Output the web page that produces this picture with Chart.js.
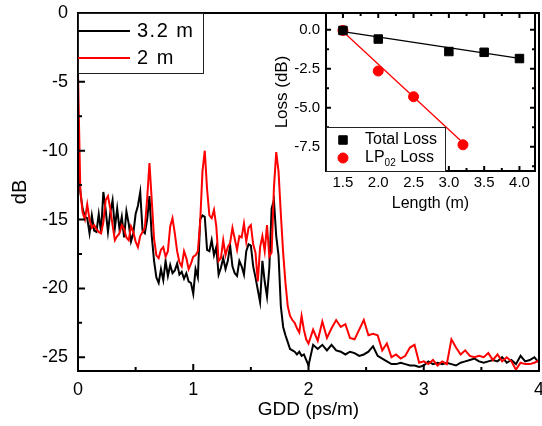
<!DOCTYPE html>
<html>
<head>
<meta charset="utf-8">
<script src="https://cdn.jsdelivr.net/npm/chart.js@4.4.0/dist/chart.umd.min.js"></script>
<style>
  html, body { margin: 0; padding: 0; background: #fff; }
  #wrap { position: relative; width: 542px; height: 426px; }
  #main { position: absolute; left: 0; top: 0; }
  #inset { position: absolute; left: 270px; top: 0; }
</style>
</head>
<body>
<div id="wrap">
  <canvas id="main" width="542" height="426"></canvas>
  <canvas id="inset" width="272" height="215"></canvas>
</div>
<script>
// sampling grid of the GDD axis (ps/m)
const gdd = [];
for (let i = 0; i <= 100; i++) gdd.push(+(i * 0.02).toFixed(2));
for (let i = 1; i <= 50; i++) gdd.push(+(2 + i * 0.04).toFixed(2));

// 2 m fiber (red), dB
const loss2m = [
  -4.4, -12.8, -14.5, -15.0, -13.9, -15.0, -15.6, -15.4, -15.7, -15.9,
  -16.0, -15.2, -13.6, -13.3, -14.2, -15.4, -16.5, -16.2, -16.0, -15.4,
  -15.7, -16.3, -16.5, -15.5, -15.9, -16.6, -17.0, -16.2, -15.9, -15.6,
  -13.5, -10.9, -13.6, -16.4, -17.6, -17.8, -17.2, -17.0, -17.7, -17.3,
  -15.5, -14.9, -16.0, -17.3, -18.1, -18.4, -17.3, -17.8, -18.6, -18.2,
  -17.7, -17.6, -17.3, -15.2, -11.5, -10.0, -12.8, -14.7, -14.9, -14.3,
  -15.5, -18.0, -17.8, -16.5, -17.6, -17.0, -16.7, -15.6, -16.4, -17.2,
  -16.2, -16.3, -15.3, -16.6, -15.6, -15.4, -16.8, -17.4, -19.5, -17.0,
  -16.2, -17.3, -15.4, -17.7, -17.4, -12.7, -10.1, -11.5, -14.6, -17.4,
  -19.6, -21.3, -22.0, -22.3, -22.5, -22.9, -23.2, -22.0, -23.0, -23.7,
  -24.0,
  -23.0, -23.8, -22.4, -23.6, -22.9, -22.3, -22.8, -22.6, -23.6, -23.7,
  -23.0, -22.3, -23.4, -23.3, -23.4, -24.5, -24.0, -25.0, -24.8, -25.1,
  -24.9, -24.3, -24.1, -25.4, -25.3, -25.5, -25.2, -25.6, -25.3, -25.5,
  -23.7, -24.3, -24.8, -24.5, -24.9, -25.0, -24.9, -25.0, -24.7, -25.2,
  -24.8, -25.3, -25.0, -25.3, -25.9, -25.4, -25.5, -25.5, -25.4, -25.2
];

// 3.2 m fiber (black), dB
const loss32m = [
  -9.8, -13.0, -14.2, -14.8, -14.9, -16.0, -14.7, -15.8, -15.9, -14.6,
  -15.9, -13.0, -14.3, -15.9, -14.5, -13.6, -15.6, -14.2, -15.7, -14.8,
  -16.3, -14.4, -15.3, -16.6, -16.0, -14.6, -14.0, -13.0, -15.8, -16.0,
  -15.0, -13.3, -16.2, -18.0, -19.2, -19.6, -18.6, -19.4, -18.0, -19.1,
  -18.3, -18.9, -18.7, -18.2, -19.0, -18.8, -19.3, -18.9, -19.5, -19.6,
  -20.4, -18.6, -19.2, -15.0, -14.7, -14.8, -17.2, -17.3, -16.5, -17.6,
  -17.0, -19.0, -18.5, -17.8, -18.6, -18.0, -16.9, -18.4, -18.9, -19.1,
  -18.0, -18.4, -19.0, -17.3, -16.8, -16.9, -18.4, -19.2, -20.1, -21.0,
  -18.0, -19.5, -20.6, -18.5, -14.2, -13.6, -16.2, -17.6, -21.3, -22.8,
  -23.4, -23.9, -24.4, -24.5, -24.6, -24.8, -24.6, -24.9, -24.8, -25.2,
  -25.6,
  -24.1, -24.4, -24.1, -24.5, -24.1, -24.5, -24.6, -24.8, -24.6, -24.7,
  -24.9, -24.8, -24.6, -24.2, -24.9, -25.1, -25.3, -25.5, -25.5, -25.4,
  -25.5, -25.6, -25.6, -25.7, -25.6, -25.3, -25.5, -25.4, -25.5, -25.4,
  -25.5, -25.6, -25.4, -25.3, -25.2, -25.1, -25.3, -25.4, -25.3, -25.2,
  -25.3, -25.0, -25.4, -25.2, -25.5, -24.9, -25.3, -25.2, -25.0, -25.4
];

// inset: loss vs length
const totalLen = [1.5, 2.0, 3.0, 3.5, 4.0];
const totalLoss = [-0.05, -0.6, -1.4, -1.45, -1.85];
const lpLen = [1.5, 2.0, 2.5, 3.2];
const lpLoss = [-0.05, -2.65, -4.3, -7.38];
const totalFitLen = [1.5, 4.0];
const totalFitLoss = [-0.12, -1.84];
const lpFitLen = [1.5, 3.2];
const lpFitLoss = [-0.12, -7.25];

// tick labels
const mainXTicks = [0, 1, 2, 3, 4];
const mainYTicks = [0, -5, -10, -15, -20, -25];
const insetXTicks = [1.5, 2.0, 2.5, 3.0, 3.5, 4.0];
const insetYTicks = [0, -2.5, -5, -7.5];

Chart.defaults.color = '#000';
Chart.defaults.font.family = '"Liberation Sans", Arial, sans-serif';

const pts = (xs, ys) => xs.map((x, i) => ({ x, y: ys[i] }));

const minorOf = (major, min, max) => {
  const step = major[1] - major[0];
  const out = [];
  for (let i = -1; i < major.length; i++) {
    const v = (i < 0 ? major[0] - step : major[i]) + step / 2;
    if (v > Math.min(min, max) && v < Math.max(min, max)) out.push(v);
  }
  return out;
};

// keep the plot area where the layout padding puts it
const noPad = s => { s.paddingLeft = 0; s.paddingRight = 0; s.paddingTop = 0; s.paddingBottom = 0; };

// frame + inward tick marks
const frameTicks = {
  id: 'frameTicks',
  beforeDatasetsDraw(chart, args, o) {
    if (!o.fill) return;
    const { ctx, chartArea: a } = chart;
    ctx.save();
    ctx.fillStyle = '#fff';
    ctx.fillRect(a.left, a.top, a.right - a.left, a.bottom - a.top);
    ctx.restore();
  },
  afterDatasetsDraw(chart, args, o) {
    const { ctx, chartArea: a } = chart;
    const xs = chart.scales.x, ys = chart.scales.y;
    ctx.save();
    ctx.strokeStyle = '#000';
    ctx.lineWidth = o.lineWidth;
    ctx.beginPath();
    const mark = (scale, vals, len) => {
      vals.forEach(v => {
        const p = scale.getPixelForValue(v);
        if (scale.isHorizontal()) {
          ctx.moveTo(p, a.bottom); ctx.lineTo(p, a.bottom - len);
          if (o.mirror) { ctx.moveTo(p, a.top); ctx.lineTo(p, a.top + len); }
        } else {
          ctx.moveTo(a.left, p); ctx.lineTo(a.left + len, p);
          if (o.mirror) { ctx.moveTo(a.right, p); ctx.lineTo(a.right - len, p); }
        }
      });
    };
    mark(xs, o.xMajor, o.major);
    mark(xs, minorOf(o.xMajor, xs.min, xs.max), o.minor);
    mark(ys, o.yMajor, o.major);
    mark(ys, minorOf(o.yMajor, ys.min, ys.max), o.minor);
    ctx.stroke();
    ctx.strokeRect(a.left, a.top, a.right - a.left, a.bottom - a.top);
    ctx.restore();
  }
};

// boxed legend in a corner of the plot area
const boxLegend = {
  id: 'boxLegend',
  afterDraw(chart, args, o) {
    const { ctx, chartArea: a } = chart;
    const left = a.left;
    const top = o.corner === 'top' ? a.top : a.bottom - o.h;
    ctx.save();
    ctx.fillStyle = '#fff';
    ctx.fillRect(left, top, o.w, o.h);
    ctx.strokeStyle = '#222';
    ctx.lineWidth = 1;
    ctx.strokeRect(left + 0.5, top + 0.5, o.w, o.h);
    ctx.textBaseline = 'middle';
    ctx.textAlign = 'left';
    o.items.forEach((it, i) => {
      const ds = chart.data.datasets[it.ds];
      const y = top + o.rows[i];
      ctx.strokeStyle = ds.borderColor;
      ctx.fillStyle = ds.backgroundColor || ds.borderColor;
      if (it.kind === 'line') {
        ctx.lineWidth = ds.borderWidth;
        ctx.beginPath();
        ctx.moveTo(left, y); ctx.lineTo(left + o.sample, y);
        ctx.stroke();
      } else {
        Chart.helpers.drawPoint(ctx, {
          pointStyle: ds.pointStyle, radius: ds.pointRadius, borderWidth: 1
        }, left + o.sample, y);
      }
      ctx.fillStyle = '#000';
      if (o.spacing) ctx.letterSpacing = o.spacing + 'px';
      let x = left + o.textX;
      it.text.forEach(part => {
        if (part.sub) {
          ctx.font = Math.round(o.size * 0.6) + 'px "Liberation Sans", Arial, sans-serif';
          ctx.fillText(part.t, x, y + o.size * 0.3);
        } else {
          ctx.font = o.size + 'px "Liberation Sans", Arial, sans-serif';
          ctx.fillText(part.t, x, y);
        }
        x += ctx.measureText(part.t).width;
      });
    });
    ctx.restore();
  }
};

new Chart(document.getElementById('main'), {
  type: 'line',
  data: {
    datasets: [
      { label: '3.2 m', data: pts(gdd, loss32m), borderColor: '#000000', borderWidth: 2, order: 2 },
      { label: '2 m', data: pts(gdd, loss2m), borderColor: '#ff0000', borderWidth: 2, order: 1 }
    ]
  },
  options: {
    responsive: false,
    devicePixelRatio: 1,
    animation: false,
    events: [],
    parsing: false,
    elements: { point: { radius: 0 }, line: { tension: 0 } },
    layout: { padding: { top: 13, right: 3, left: 0, bottom: 0 } },
    scales: {
      x: {
        type: 'linear', min: 0, max: 4,
        afterBuildTicks: s => { s.ticks = mainXTicks.map(v => ({ value: v })); },
        afterFit: s => { s.height = 55; noPad(s); },
        grid: { display: false, drawTicks: false },
        border: { display: false },
        ticks: { font: { size: 18 }, padding: 8, maxRotation: 0, autoSkip: false },
        title: { display: true, text: 'GDD (ps/m)', font: { size: 19 }, padding: { top: 0, bottom: 5 } }
      },
      y: {
        type: 'linear', min: -26, max: 0,
        afterBuildTicks: s => { s.ticks = mainYTicks.map(v => ({ value: v })); },
        afterFit: s => { s.width = 78; noPad(s); },
        grid: { display: false, drawTicks: false },
        border: { display: false },
        ticks: { font: { size: 18 }, padding: 10, autoSkip: false },
        title: { display: true, text: 'dB', font: { size: 20 }, padding: { top: 8, bottom: 0 } }
      }
    },
    plugins: {
      legend: { display: false },
      tooltip: { enabled: false },
      frameTicks: { lineWidth: 2, major: 7, minor: 4, mirror: false, xMajor: mainXTicks, yMajor: mainYTicks },
      boxLegend: {
        corner: 'top', w: 125, h: 60, rows: [18, 45], sample: 52, textX: 59, size: 20, spacing: 1.5,
        items: [
          { ds: 0, kind: 'line', text: [{ t: '3.2 m' }] },
          { ds: 1, kind: 'line', text: [{ t: '2 m' }] }
        ]
      }
    }
  },
  plugins: [frameTicks, boxLegend]
});

new Chart(document.getElementById('inset'), {
  type: 'scatter',
  data: {
    datasets: [
      { label: 'Total Loss', data: pts(totalLen, totalLoss), pointStyle: 'rect', pointRadius: 6,
        backgroundColor: '#000', borderColor: '#000', borderWidth: 1, order: 1 },
      { label: 'LP02 Loss', data: pts(lpLen, lpLoss), pointStyle: 'circle', pointRadius: 5,
        backgroundColor: '#ff0000', borderColor: '#ff0000', borderWidth: 1, order: 1 },
      { label: 'total fit', data: pts(totalFitLen, totalFitLoss), showLine: true, pointRadius: 0,
        borderColor: '#000', borderWidth: 1.3, order: 2 },
      { label: 'lp fit', data: pts(lpFitLen, lpFitLoss), showLine: true, pointRadius: 0,
        borderColor: '#ff0000', borderWidth: 1.3, order: 2 }
    ]
  },
  options: {
    responsive: false,
    devicePixelRatio: 1,
    animation: false,
    events: [],
    layout: { padding: { top: 13, right: 3, left: 0, bottom: 0 } },
    scales: {
      x: {
        type: 'linear', min: 1.26, max: 4.22,
        afterBuildTicks: s => { s.ticks = insetXTicks.map(v => ({ value: v })); },
        afterFit: s => { s.height = 44; noPad(s); },
        grid: { display: false, drawTicks: false },
        border: { display: false },
        ticks: { font: { size: 15 }, padding: 3, maxRotation: 0, autoSkip: false, callback: v => v.toFixed(1) },
        title: { display: true, text: 'Length (m)', font: { size: 16 }, padding: { top: 0, bottom: 2 } }
      },
      y: {
        type: 'linear', min: -9.06, max: 1.07,
        afterBuildTicks: s => { s.ticks = insetYTicks.map(v => ({ value: v })); },
        afterFit: s => { s.width = 56; noPad(s); },
        grid: { display: false, drawTicks: false },
        border: { display: false },
        ticks: { font: { size: 15 }, padding: 6, autoSkip: false, callback: v => v.toFixed(1) },
        title: { display: true, text: 'Loss (dB)', font: { size: 17 }, padding: { top: 2, bottom: 0 } }
      }
    },
    plugins: {
      legend: { display: false },
      tooltip: { enabled: false },
      frameTicks: { fill: true, lineWidth: 2, major: 5, minor: 3, mirror: true, xMajor: insetXTicks, yMajor: insetYTicks },
      boxLegend: {
        corner: 'bottom', w: 119, h: 44, rows: [13, 31], sample: 17, textX: 39, size: 16,
        items: [
          { ds: 0, kind: 'point', text: [{ t: 'Total Loss' }] },
          { ds: 1, kind: 'point', text: [{ t: 'LP' }, { t: '02', sub: true }, { t: ' Loss' }] }
        ]
      }
    }
  },
  plugins: [frameTicks, boxLegend]
});
</script>
</body>
</html>
